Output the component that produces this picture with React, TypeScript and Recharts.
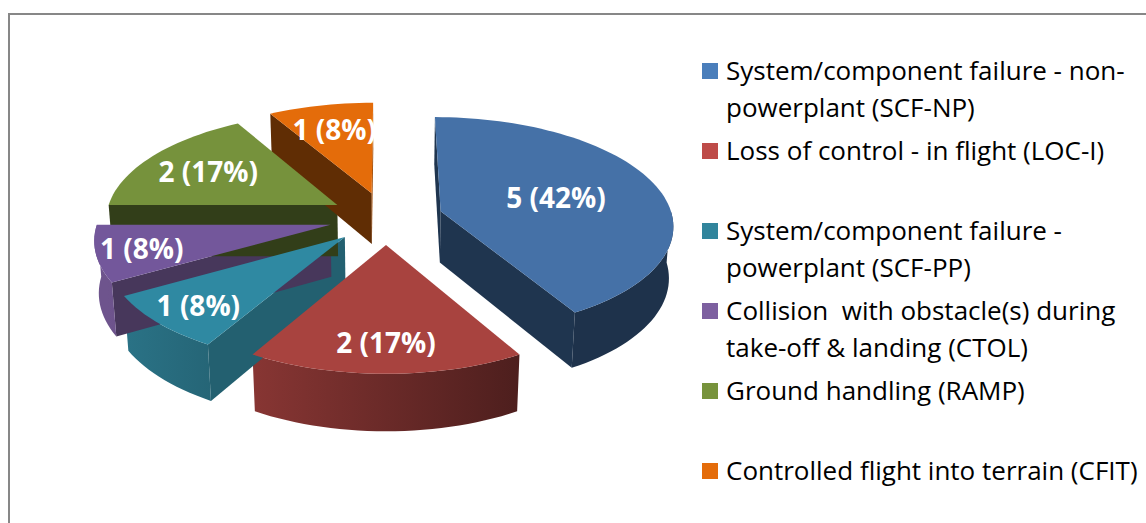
import React from "react";
import { PieChart, Pie, Cell, Legend } from "recharts";

const categories = [
	"System/component failure - non-powerplant (SCF-NP)",
	"Loss of control - in flight (LOC-I)",
	"System/component failure - powerplant (SCF-PP)",
	"Collision  with obstacle(s) during take-off & landing (CTOL)",
	"Ground handling (RAMP)",
	"Controlled flight into terrain (CFIT)",
];
const occurrences = [5, 2, 1, 1, 2, 1];
const colors = ["#4A7EBB", "#BE4B48", "#31859C", "#7D60A0", "#77933C", "#E46C0A"];
const faceColors = ["#4571A7", "#A8433F", "#2F89A2", "#73579B", "#76923C", "#E46C0A"];

const data = categories.map((name, i) => ({ name, value: occurrences[i] }));

// 3d look
const CX = 381;
const CY = 213;
const RADIUS = 232;
const EXPLODE = 57;
const DEPTH = 59;
const TILT_SIN = 0.46;
const TILT_COS = Math.sqrt(1 - TILT_SIN * TILT_SIN);
const FOCAL = 1750;
const RAD = Math.PI / 180;

const project = (cx: number, cy: number, u: number, v: number, h: number) => {
	const y1 = h * TILT_COS + v * TILT_SIN;
	const z1 = v * TILT_COS - h * TILT_SIN;
	const s = FOCAL / (FOCAL + z1);
	return [cx + u * s, cy - y1 * s];
};

const shade = (hex: string, k: number) => {
	const n = parseInt(hex.slice(1), 16);
	const c = (x: number) => Math.min(255, Math.round(x * k));
	return `rgb(${c((n >> 16) & 255)},${c((n >> 8) & 255)},${c(n & 255)})`;
};

const toPath = (pts: number[][]) =>
	"M" + pts.map((p) => p[0].toFixed(2) + "," + p[1].toFixed(2)).join("L") + "Z";

const geom = (p: any) => {
	const { cx, cy, outerRadius: r, startAngle: a0, endAngle: a1 } = p;
	const mid = (a0 + a1) / 2;
	const eu = EXPLODE * Math.cos(mid * RAD);
	const ev = EXPLODE * Math.sin(mid * RAD);
	const wp = (deg: number, rr: number) => [eu + rr * Math.cos(deg * RAD), ev + rr * Math.sin(deg * RAD)];
	const pt = (deg: number, rr: number, h: number) => {
		const [u, v] = wp(deg, rr);
		return project(cx, cy, u, v, h);
	};
	const arc = (from: number, to: number, h: number) => {
		const n = Math.max(2, Math.ceil(Math.abs(to - from) / 2));
		const out: number[][] = [];
		for (let i = 0; i <= n; i++) out.push(pt(from + ((to - from) * i) / n, r, h));
		return out;
	};
	return { cx, cy, r, a0, a1, mid, wp, pt, arc };
};

const renderWalls = (p: any) => {
	const { cx, r, a0, a1, wp, pt, arc } = geom(p);
	const i = p.index;
	const base = colors[i];
	const camV = -FOCAL * TILT_COS;
	const walls: React.ReactNode[] = [];

	[
		[a0, a0 + 90],
		[a1, a1 - 90],
	].forEach(([edge, normal], k) => {
		const nu = Math.cos(normal * RAD);
		const nv = Math.sin(normal * RAD);
		const [pu, pv] = wp(edge, r / 2);
		if (nu * -pu + nv * (camV - pv) <= 0) return;
		const phi = (((90 - normal) % 360) + 360) % 360;
		const f = 0.42 + 0.3 * Math.min(1, Math.max(0, (180 - phi) / 60));
		const quad = [pt(edge, 0, 0), pt(edge, r, 0), pt(edge, r, -DEPTH), pt(edge, 0, -DEPTH)];
		walls.push(<path key={"r" + k} d={toPath(quad)} fill={shade(base, f)} />);
	});

	const hi = Math.min(a0, 0);
	const lo = Math.max(a1, -180);
	if (hi > lo) {
		const band = [...arc(hi, lo, 0), ...arc(lo, hi, -DEPTH)];
		walls.push(<path key="outer" d={toPath(band)} fill={`url(#wallGrad${i})`} />);
	}

	return (
		<g key={"walls" + i}>
			<defs>
				<linearGradient
					id={`wallGrad${i}`}
					gradientUnits="userSpaceOnUse"
					x1={cx - r * 1.2}
					y1={0}
					x2={cx + r * 0.6}
					y2={0}>
					<stop offset="0" stopColor={shade(base, 0.88)} />
					<stop offset="1" stopColor={shade(base, 0.4)} />
				</linearGradient>
			</defs>
			{walls}
		</g>
	);
};

const renderFaces = (p: any) => {
	const { r, a0, a1, mid, pt, arc } = geom(p);
	const i = p.index;
	const face = [pt(mid, 0, 0), ...arc(a0, a1, 0)];
	const half = (Math.abs(a0 - a1) / 2) * RAD;
	const t = 1.08 * (2 / 3) * (Math.sin(half) / half);
	const [lx0, ly0] = pt(mid, t * r, 0);
	const front = Math.max(0, -Math.sin(mid * RAD));
	const ly = ly0 + DEPTH * 0.2 * front;
	const lx = lx0 + (front > 0 ? 24 * Math.cos(mid * RAD) : 0);
	const value = p.value ?? occurrences[i];
	return (
		<g key={"face" + i}>
			<path d={toPath(face)} fill={faceColors[i]} />
			<text
				x={lx}
				y={ly}
				textAnchor="middle"
				dominantBaseline="central"
				fill="#ffffff"
				fontFamily="'Open Sans', sans-serif"
				fontWeight={700}
				fontSize={28}>
				{`${value} (${Math.round(p.percent * 100)}%)`}
			</text>
		</g>
	);
};

const renderLegend = () => (
	<div
		style={{
			fontFamily: "'Open Sans', sans-serif",
			fontSize: 26,
			lineHeight: "37px",
			color: "#000",
		}}>
		{categories.map((name, i) => (
			<div
				key={name}
				style={{ display: "flex", alignItems: "flex-start", height: 80 }}>
				<span
					style={{
						flex: "none",
						width: 16,
						height: 16,
						marginTop: 10.5,
						marginRight: 8,
						background: colors[i],
					}}
				/>
				<span style={{ whiteSpace: "pre-wrap", width: 420 }}>{name}</span>
			</div>
		))}
	</div>
);

export default function App() {
	return (
		<div
			style={{
				position: "fixed",
				left: 0,
				top: 0,
				width: 1146,
				height: 523,
				overflow: "hidden",
				background: "#fff",
			}}>
			<div
				style={{
					position: "absolute",
					left: 8,
					top: 13,
					width: 1300,
					height: 700,
					borderLeft: "2px solid #878787",
					borderTop: "2px solid #878787",
				}}
			/>
			<div style={{ position: "absolute", left: 0, top: 0 }}>
				<PieChart width={1146} height={523}>
					<Pie
						data={data}
						dataKey="value"
						nameKey="name"
						cx={CX}
						cy={CY}
						outerRadius={RADIUS}
						startAngle={90}
						endAngle={-270}
						stroke="none"
						isAnimationActive={false}
						legendType="none"
						labelLine={false}
						label={renderWalls}>
						{data.map((d, i) => (
							<Cell key={d.name} fill={colors[i]} fillOpacity={0} />
						))}
					</Pie>
					<Pie
						data={data}
						dataKey="value"
						nameKey="name"
						cx={CX}
						cy={CY}
						outerRadius={RADIUS}
						startAngle={90}
						endAngle={-270}
						stroke="none"
						isAnimationActive={false}
						labelLine={false}
						label={renderFaces}>
						{data.map((d, i) => (
							<Cell key={d.name} fill={colors[i]} fillOpacity={0} />
						))}
					</Pie>
					<Legend
						content={renderLegend}
						wrapperStyle={{ position: "absolute", left: 702, top: 52, width: 444 }}
					/>
				</PieChart>
			</div>
		</div>
	);
}
